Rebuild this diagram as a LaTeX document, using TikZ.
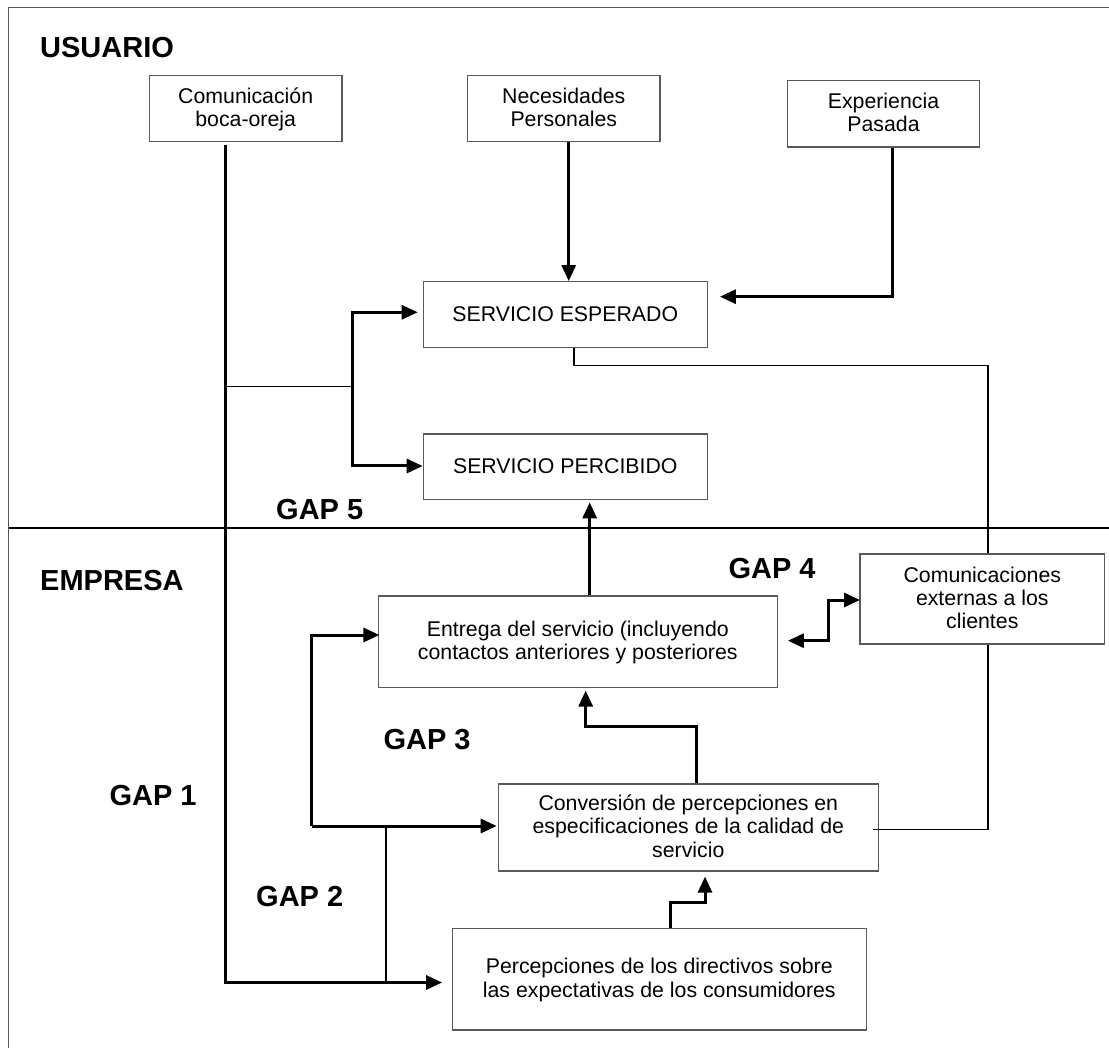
\documentclass[tikz,border=0pt]{standalone}
\usepackage{fontspec}
\setmainfont{Liberation Sans}
\usetikzlibrary{arrows.meta,calc}
\newcommand\tpstr{\rule{0pt}{17.3pt}}
\newcommand\btstr{\rule[-4.5pt]{0pt}{4.5pt}}
\begin{document}
\begin{tikzpicture}[x=1pt,y=-1pt,
  box/.style={draw=black!65, line width=1.2pt, fill=white, inner sep=0pt, align=center,
    font=\fontsize{21.3}{23.4}\selectfont},
  lbl/.style={anchor=base west, inner sep=0pt, font=\fontsize{29}{32}\selectfont\bfseries},
  arr/.style={line width=3pt, -{Triangle[length=16pt,width=14pt]}},
  arrboth/.style={line width=3pt, {Triangle[length=16pt,width=14pt]}-{Triangle[length=16pt,width=14pt]}},
  thinl/.style={line width=1.2pt, black},
  framel/.style={line width=1.2pt, black!65}]

\useasboundingbox (0,0) rectangle (1109,1048);
% frame and divider
\draw[framel] (8.5,1048) -- (8.5,7.5) -- (1109,7.5);
\draw[thinl] (8.5,528) -- (1109,528);

% labels
\node[lbl] (usuario) at (40,57.3) {USUARIO};
\node[lbl] (empresa) at (40,590.7) {EMPRESA};
\node[lbl] (gap5) at (276,519) {GAP 5};
\node[lbl] (gap4) at (728.3,578.3) {GAP 4};
\node[lbl] (gap3) at (383.3,749.3) {GAP 3};
\node[lbl] (gap1) at (109.3,805.7) {GAP 1};
\node[lbl] (gap2) at (256,906.7) {GAP 2};

% boxes
\node[box, minimum width=192.7pt, minimum height=66.4pt] (boca) at (245.7,108.5) {\tpstr Comunicación\\boca-oreja\btstr};
\node[box, minimum width=192.3pt, minimum height=66.4pt] (nec) at (563.8,108.5) {\tpstr Necesidades\\Personales\btstr};
\node[box, minimum width=192.4pt, minimum height=66.3pt] (exp) at (883.5,113.8) {\tpstr Experiencia\\Pasada\btstr};
\node[box, minimum width=284pt, minimum height=66pt] (se) at (565.3,314.7) {\tpstr SERVICIO ESPERADO\btstr};
\node[box, minimum width=284pt, minimum height=65.3pt] (sp) at (565.3,466.7) {\tpstr SERVICIO PERCIBIDO\btstr};
\node[box, minimum width=399pt, minimum height=91.7pt] (ent) at (577.8,641.8) {\tpstr Entrega del servicio (incluyendo\\contactos anteriores y posteriores\btstr};
\node[box, minimum width=244.7pt, minimum height=90pt] (ce) at (982.3,599) {\tpstr Comunicaciones\\externas a los\\clientes\btstr};
\node[box, minimum width=380pt, minimum height=87pt] (conv) at (688.3,827.5) {\tpstr Conversión de percepciones en\\especificaciones de la calidad de\\servicio\btstr};
\node[box, minimum width=414pt, minimum height=101.7pt] (perc) at (659.3,979.2) {\tpstr Percepciones de los directivos sobre\\las expectativas de los consumidores\btstr};

% junction coordinates
\coordinate (j1) at (225.7,386.7);
\coordinate (j2) at (352.7,386.7);
\coordinate (lp) at (311.7,826);
\coordinate (j3) at (386,826);
\coordinate (j4) at (386,982.5);

% boca-oreja -> percepciones
\draw[arr] ($(boca.south)+(-20,2.3)$) |- ($(perc.west)+(-9.6,3.3)$);
% boca-oreja branch -> servicio esperado / percibido
\draw[thinl] (j1) -- (j2);
\draw[arr] (j2) |- ($(se.west)+(-5,-2.4)$);
\draw[arr] (j2) |- ($(sp.west)+(0,-0.7)$);
% necesidades -> servicio esperado
\draw[arr] ($(nec.south)+(4.9,0)$) coordinate (n1) -- (n1 |- se.north);
% experiencia -> servicio esperado
\draw[arr] ($(exp.south)+(9.2,0)$) |- ($(se.east)+(12,-18)$);
% servicio esperado -> comunicaciones externas (thin)
\draw[thinl] ($(se.south)+(8.7,0)$) -- ++(0,17.6) -| ($(ce.north)+(5.7,0)$);
% comunicaciones externas -> conversion (thin)
\draw[thinl] ($(ce.south)+(5.7,0)$) |- ($(conv.east)+(-6,1.8)$);
% entrega -> servicio percibido
\draw[arr] ($(ent.north)+(11.9,0)$) coordinate (e1) -- ($(e1 |- sp.south)+(0,2.4)$);
% entrega <-> comunicaciones externas
\draw[arrboth] ($(ent.east)+(10,-1.1)$) -- ++(40.7,0) |- ($(ce.west)+(0.7,1)$);
% conversion -> entrega
\draw[arr] ($(conv.north)+(8.4,0)$) -- ++(0,-57.3) -| ($(ent.south)+(7.9,2.3)$);
% percepciones -> conversion
\draw[arr] ($(perc.north)+(10.7,0)$) -- ++(0,-25) -| ($(conv.south)+(16.7,5)$);
% left loop
\draw[arr] (lp) |- ($(ent.west)+(1.7,-6.8)$);
\draw[arr] (lp) -- ($(lp -| conv.west)+(-1,0)$);
\draw[thinl] (j4) -- (j3);
\end{tikzpicture}
\end{document}
